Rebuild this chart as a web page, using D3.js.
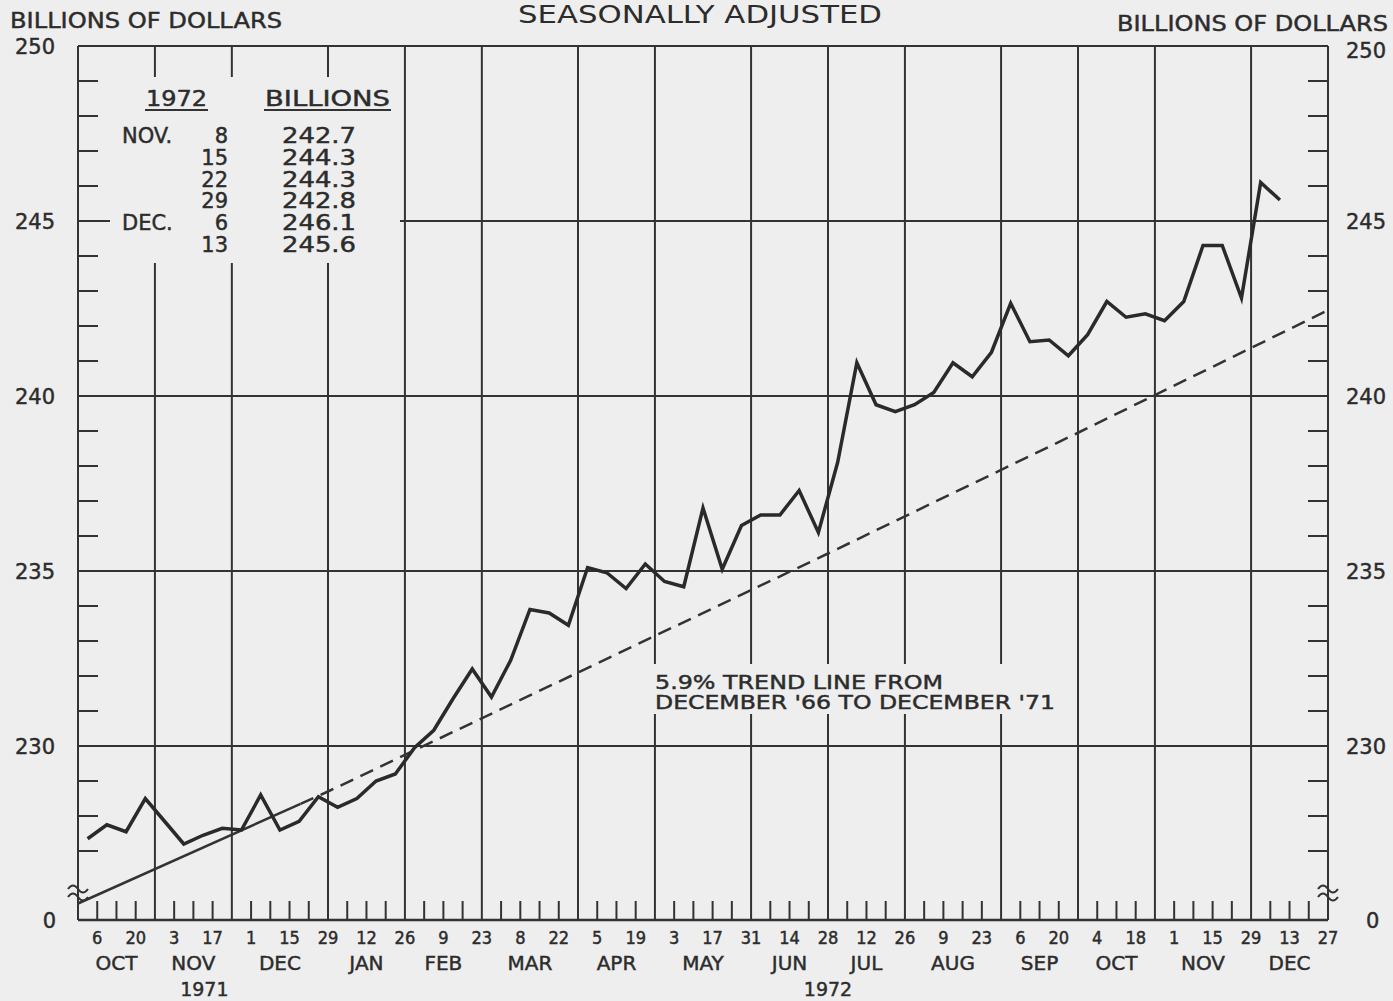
<!DOCTYPE html>
<html><head><meta charset="utf-8">
<script src="https://cdn.jsdelivr.net/npm/d3@7"></script>
<style>
html,body{margin:0;padding:0;background:#eeeeee;}
svg{display:block;}
text{font-family:"DejaVu Sans",sans-serif;fill:#2c2c2c;stroke:#2c2c2c;stroke-width:0.45px;}
text.thin{stroke-width:0;}
</style></head><body>
<svg id="chart" width="1393" height="1001"></svg>
<script>
// ---------------- DATA ----------------
const weekDates = [
 "1971-10-06","1971-10-13","1971-10-20","1971-10-27","1971-11-03","1971-11-10","1971-11-17","1971-11-24",
 "1971-12-01","1971-12-08","1971-12-15","1971-12-22","1971-12-29",
 "1972-01-05","1972-01-12","1972-01-19","1972-01-26","1972-02-02","1972-02-09","1972-02-16","1972-02-23",
 "1972-03-01","1972-03-08","1972-03-15","1972-03-22","1972-03-29","1972-04-05","1972-04-12","1972-04-19",
 "1972-04-26","1972-05-03","1972-05-10","1972-05-17","1972-05-24","1972-05-31","1972-06-07","1972-06-14",
 "1972-06-21","1972-06-28","1972-07-05","1972-07-12","1972-07-19","1972-07-26","1972-08-02","1972-08-09",
 "1972-08-16","1972-08-23","1972-08-30","1972-09-06","1972-09-13","1972-09-20","1972-09-27","1972-10-04",
 "1972-10-11","1972-10-18","1972-10-25","1972-11-01","1972-11-08","1972-11-15","1972-11-22","1972-11-29",
 "1972-12-06","1972-12-13"];
const moneyStock = [
 227.35,227.75,227.55,228.5,227.85,227.2,227.45,227.65,
 227.6,228.6,227.6,227.85,228.55,
 228.25,228.5,229.0,229.2,229.95,230.45,231.35,232.2,
 231.4,232.45,233.9,233.8,233.45,235.1,234.95,234.5,
 235.2,234.7,234.55,236.8,235.05,236.3,236.6,236.6,
 237.3,236.1,238.1,240.95,239.75,239.55,239.75,240.1,
 240.95,240.55,241.25,242.65,241.55,241.6,241.15,241.75,
 242.7,242.25,242.35,242.15,242.7,244.3,244.3,242.8,
 246.1,245.6];
const trendDates  = ["1971-09-29","1971-12-29","1972-03-29","1972-06-28","1972-09-27","1972-12-27"];
const trendValues = [225.5,228.7,232.1,235.5,238.95,242.45];
const trendSolidEnd = "1971-12-19";
const monthBounds = ["1971-09-29","1971-10-27","1971-11-24","1971-12-29","1972-01-26","1972-02-23","1972-03-29",
 "1972-04-26","1972-05-31","1972-06-28","1972-07-26","1972-08-30","1972-09-27","1972-10-25","1972-11-29","1972-12-27"];
const monthLabels = ["OCT","NOV","DEC","JAN","FEB","MAR","APR","MAY","JUN","JUL","AUG","SEP","OCT","NOV","DEC"];
const yearLabels = [["1971","1971-11-14"],["1972","1972-06-28"]];
const yMajor = [250,245,240,235,230];
const tableHead = ["1972","BILLIONS"];
const tableRows = [["NOV.","8","242.7"],["","15","244.3"],["","22","244.3"],["","29","242.8"],["DEC.","6","246.1"],["","13","245.6"]];

// ---------------- CHART ----------------
const parse = d3.utcParse("%Y-%m-%d");
const svg = d3.select("#chart");
const L=78, R=1328, T=46, B=921, AX=920;
const INK="#333333", BG="#eeeeee";
const x = d3.scaleUtc().domain([parse(monthBounds[0]), parse(monthBounds[monthBounds.length-1])]).range([L,R]);
const y = d3.scaleLinear().domain([225,250]).range([B,T]);

svg.append("rect").attr("width",1393).attr("height",1001).attr("fill",BG);

const g = svg.append("g");
g.selectAll(".vm").data(monthBounds.map(parse)).join("line")
 .attr("x1",d=>x(d)).attr("x2",d=>x(d)).attr("y1",T).attr("y2",AX)
 .attr("stroke",INK).attr("stroke-width",2);
g.selectAll(".hm").data(yMajor).join("line")
 .attr("x1",L).attr("x2",R).attr("y1",d=>y(d)).attr("y2",d=>y(d))
 .attr("stroke",INK).attr("stroke-width",2);
g.append("line").attr("x1",L).attr("x2",R).attr("y1",AX).attr("y2",AX).attr("stroke",INK).attr("stroke-width",2.5);

// masks behind table & label
svg.append("rect").attr("x",110).attr("y",77).attr("width",290).attr("height",186).attr("fill",BG);
svg.append("rect").attr("x",648).attr("y",664).attr("width",414).attr("height",50).attr("fill",BG);

// minor y ticks
const minorY = d3.range(227,250).filter(v=>v%5!==0);
svg.selectAll(".mty").data(minorY).join("line")
 .attr("x1",L).attr("x2",L+20).attr("y1",d=>y(d)).attr("y2",d=>y(d)).attr("stroke",INK).attr("stroke-width",2);
svg.selectAll(".mtyr").data(minorY).join("line")
 .attr("x1",R-20).attr("x2",R).attr("y1",d=>y(d)).attr("y2",d=>y(d)).attr("stroke",INK).attr("stroke-width",2);

// weekly ticks
const boundSet = new Set(monthBounds);
const fmt = d3.utcFormat("%Y-%m-%d");
const weekTicks = d3.utcWednesday.range(d3.utcDay.offset(parse(monthBounds[0]),1), parse(monthBounds[monthBounds.length-1]))
  .filter(d=>!boundSet.has(fmt(d)));
svg.selectAll(".wt").data(weekTicks).join("line")
 .attr("x1",d=>x(d)).attr("x2",d=>x(d)).attr("y1",AX).attr("y2",AX-19).attr("stroke",INK).attr("stroke-width",2);

// day labels (every other week)
const dayLabelDates = d3.utcDay.range(parse("1971-10-06"), d3.utcDay.offset(parse("1972-12-27"),1), 14);
svg.selectAll(".dl").data(dayLabelDates).join("text")
 .attr("x",d=>x(d)).attr("y",944).attr("text-anchor","middle")
 .style("font-family","'DejaVu Sans Condensed','DejaVu Sans',sans-serif").attr("font-size",18)
 .text(d3.utcFormat("%-d"));
svg.selectAll(".ml").data(monthLabels).join("text")
 .attr("x",(d,i)=>(x(parse(monthBounds[i]))+x(parse(monthBounds[i+1])))/2).attr("y",970)
 .attr("text-anchor","middle").attr("font-size",20).text(d=>d);
svg.selectAll(".yl").data(yearLabels).join("text")
 .attr("x",d=>x(parse(d[1]))).attr("y",996).attr("text-anchor","middle").attr("font-size",19).text(d=>d[0]);

// y labels
svg.selectAll(".yll").data(yMajor).join("text")
 .attr("x",55).attr("y",d=>y(d)+8).attr("text-anchor","end").attr("font-size",21).text(d=>d);
svg.selectAll(".ylr").data(yMajor).join("text")
 .attr("x",1346).attr("y",(d,i)=>y(d)+8+(i===0?4:0)).attr("font-size",21).text(d=>d);
svg.append("text").attr("x",56).attr("y",AX+8).attr("text-anchor","end").attr("font-size",21).text("0");
svg.append("text").attr("x",1366).attr("y",AX+8).attr("font-size",21).text("0");

// headers
svg.append("text").attr("x",10).attr("y",28).attr("font-size",21).attr("textLength",272).attr("lengthAdjust","spacingAndGlyphs").text("BILLIONS OF DOLLARS");
svg.append("text").attr("x",1117).attr("y",31).attr("font-size",21).attr("textLength",271).attr("lengthAdjust","spacingAndGlyphs").text("BILLIONS OF DOLLARS");
svg.append("text").attr("class","thin").attr("x",518).attr("y",23).attr("font-size",25).attr("textLength",364).attr("lengthAdjust","spacingAndGlyphs").text("SEASONALLY ADJUSTED");

// table
svg.append("text").attr("x",146).attr("y",106).attr("font-size",21).attr("textLength",61).attr("lengthAdjust","spacingAndGlyphs").text(tableHead[0]);
svg.append("text").attr("x",265).attr("y",106).attr("font-size",21).attr("textLength",125).attr("lengthAdjust","spacingAndGlyphs").text(tableHead[1]);
svg.append("line").attr("x1",145).attr("x2",208).attr("y1",110).attr("y2",110).attr("stroke",INK).attr("stroke-width",2);
svg.append("line").attr("x1",264).attr("x2",391).attr("y1",110).attr("y2",110).attr("stroke",INK).attr("stroke-width",2);
const rows = svg.selectAll(".tr").data(tableRows).join("g").attr("transform",(d,i)=>`translate(0,${143+i*21.8})`);
rows.append("text").attr("x",122).attr("font-size",21).text(d=>d[0]);
rows.append("text").attr("x",228).attr("text-anchor","end").attr("font-size",21).text(d=>d[1]);
rows.append("text").attr("x",282).attr("font-size",21).attr("textLength",74).attr("lengthAdjust","spacingAndGlyphs").text(d=>d[2]);

// break marks
function brk(cx,cy){
  [-4,4].forEach(o=>{
    svg.append("path").attr("d",`M${cx-10},${cy+o} q5,-7 10,0 t10,0`).attr("fill","none").attr("stroke",INK).attr("stroke-width",2);
  });
}
brk(L,893); brk(R,893);

// trend line
const trendScale = d3.scaleUtc().domain(trendDates.map(parse)).range(trendValues);
const tEnd = parse(trendSolidEnd);
const trendPts = trendDates.map((d,i)=>[parse(d),trendValues[i]]);
const solidPts = trendPts.filter(p=>p[0]<tEnd).concat([[tEnd,trendScale(tEnd)]]);
const dashPts = [[tEnd,trendScale(tEnd)]].concat(trendPts.filter(p=>p[0]>tEnd));
const tl = d3.line().x(p=>x(p[0])).y(p=>y(p[1]));
svg.append("path").attr("d",tl(solidPts)).attr("fill","none").attr("stroke",INK).attr("stroke-width",2.5);
svg.append("path").attr("d",tl(dashPts)).attr("fill","none").attr("stroke",INK).attr("stroke-width",2.5).attr("stroke-dasharray","14,8");

// data line (plotted at mid-week)
const pts = weekDates.map((d,i)=>[d3.utcHour.offset(parse(d),-84), moneyStock[i]]);
svg.append("path").attr("d",d3.line().x(p=>x(p[0])).y(p=>y(p[1]))(pts))
 .attr("fill","none").attr("stroke","#2a2a2a").attr("stroke-width",3.5).attr("stroke-linejoin","miter");

// trend label
svg.append("text").attr("x",655).attr("y",689).attr("font-size",19).attr("textLength",288).attr("lengthAdjust","spacingAndGlyphs").text("5.9% TREND LINE FROM");
svg.append("text").attr("x",655).attr("y",709).attr("font-size",19).attr("textLength",400).attr("lengthAdjust","spacingAndGlyphs").text("DECEMBER '66 TO DECEMBER '71");
</script>
</body></html>
